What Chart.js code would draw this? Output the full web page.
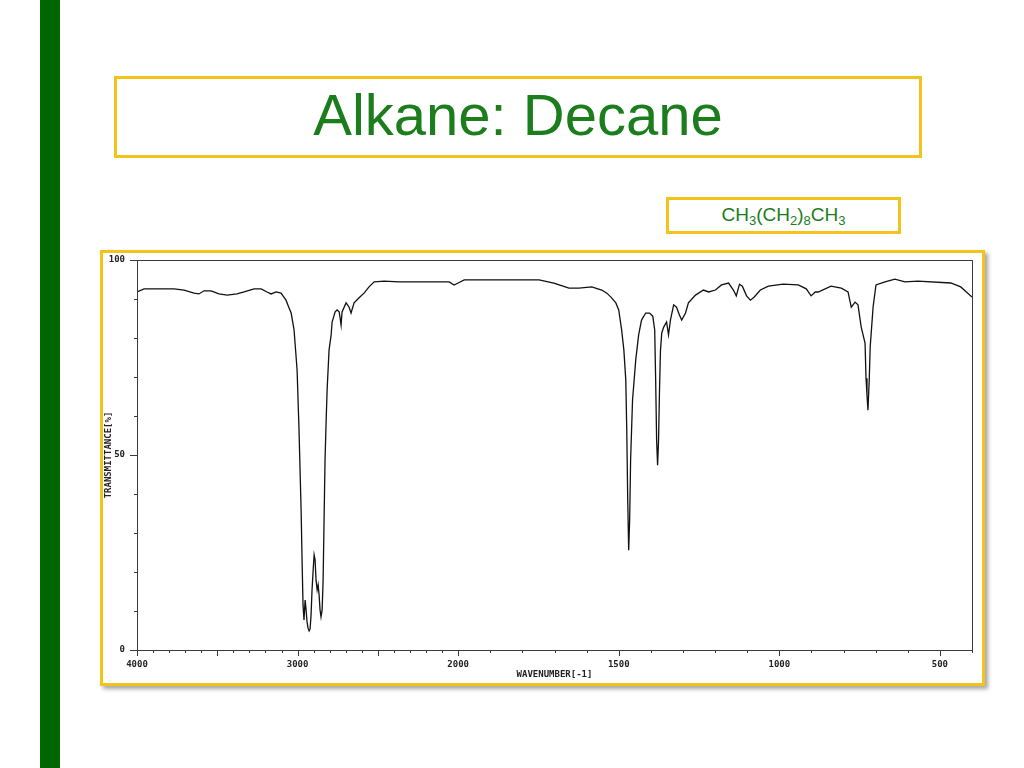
<!DOCTYPE html>
<html>
<head>
<meta charset="utf-8">
<script src="https://cdn.jsdelivr.net/npm/chart.js@4.4.0/dist/chart.umd.min.js"></script>
<style>
body { margin: 0; width: 1024px; height: 768px; background: #fff; position: relative; overflow: hidden; font-family: "Liberation Sans", Arial, sans-serif; }
.bar { position: absolute; left: 40px; top: 0; width: 20px; height: 768px; background: #006600; }
.title { position: absolute; left: 114px; top: 76px; width: 808px; height: 82px; box-sizing: border-box; border: 3px solid #f3c31c;
  text-align: center; font-size: 58px; line-height: 72px; color: #1b7d1b; }
.formula { position: absolute; left: 666px; top: 197px; width: 235px; height: 37px; box-sizing: border-box; border: 3px solid #f3c31c;
  text-align: center; font-size: 19px; line-height: 30px; color: #1b7d1b; }
.formula sub { font-size: 13px; vertical-align: -4px; line-height: 0; }
.chartbox { position: absolute; left: 100px; top: 250px; width: 885px; height: 436px; box-sizing: border-box; border: 3px solid #f3c31c;
  box-shadow: 3px 3px 4px rgba(0,0,0,0.35); background: #fff; }
.wrap { position: absolute; left: 103px; top: 253px; width: 879px; height: 430px; }
</style>
</head>
<body>
<div class="bar"></div>
<div class="title">Alkane: Decane</div>
<div class="formula">CH<sub>3</sub>(CH<sub>2</sub>)<sub>8</sub>CH<sub>3</sub></div>
<div class="chartbox"></div>
<div class="wrap"><canvas id="chart"></canvas></div>
<script>
// spectrum (wavenumber cm-1, transmittance %)
const wavenumbers = [4000,3956,3863,3769,3707,3645,3614,3583,3539,3489,
  3439,3377,3333,3271,3227,3190,3165,3134,3103,3072,
  3053,3040,3022,3003,2991,2978,2972,2966,2960,2953,
  2947,2941,2935,2928,2922,2916,2910,2903,2897,2891,
  2885,2878,2872,2866,2860,2854,2847,2841,2835,2829,
  2822,2816,2804,2791,2785,2766,2754,2741,2735,2729,
  2723,2698,2679,2667,2648,2617,2586,2555,2523,2461,
  2368,2243,2118,2056,2025,2000,1981,1873,1748,1702,
  1655,1624,1584,1553,1537,1522,1509,1500,1491,1484,
  1478,1475,1472,1469,1466,1463,1457,1447,1438,1429,
  1416,1404,1394,1388,1385,1382,1379,1376,1373,1370,
  1366,1360,1351,1345,1339,1329,1320,1311,1304,1292,
  1283,1261,1236,1220,1199,1180,1158,1143,1134,1124,
  1115,1102,1090,1078,1059,1034,988,941,916,901,
  888,879,839,807,786,776,764,755,745,733,
  730,727,724,720,717,708,699,671,640,609,
  568,466,435,400];
const transmittance = [91.8,92.6,92.6,92.6,92.3,91.5,91.3,92.1,92.1,91.3,
  91.0,91.3,91.8,92.6,92.6,91.8,91.3,91.8,91.5,89.7,
  87.7,86.4,82.1,71.8,56.4,35.9,23.1,11.5,7.7,12.8,
  10.3,7.2,5.6,4.9,5.4,9.0,15.4,20.5,24.4,23.1,
  17.9,15.4,16.7,14.1,10.3,8.5,10.3,17.9,33.3,48.7,
  59.0,66.7,76.9,80.8,84.1,86.7,87.2,86.7,85.1,83.3,
  86.7,89.0,87.9,86.4,89.0,90.3,91.5,93.1,94.4,94.6,
  94.4,94.4,94.4,94.4,93.6,94.1,94.9,94.9,94.9,94.1,
  92.8,92.8,93.1,92.3,91.5,90.3,89.0,87.2,82.1,76.9,
  69.2,56.4,38.5,25.6,33.3,48.7,64.1,74.4,80.8,84.6,
  86.4,86.4,85.6,82.1,69.2,53.8,47.4,53.8,66.7,76.9,
  81.3,82.8,84.1,80.8,84.6,88.5,87.9,85.9,84.6,86.4,
  89.0,91.0,92.3,91.8,92.3,93.6,94.1,92.3,90.8,93.8,
  93.3,90.8,89.7,90.5,92.3,93.3,93.8,93.6,92.6,90.8,
  91.8,91.8,93.3,92.8,91.8,87.9,89.2,88.5,82.8,78.7,
  69.7,65.4,61.5,69.2,77.7,87.9,93.6,94.4,95.1,94.4,
  94.6,94.1,93.1,90.5];

const xLabelTicks = [4000, 3000, 2000, 1500, 1000, 500];
const yLabelTicks = [0, 50, 100];
const xMax = 4000, xMin = 400, xBreak = 2000;   // scale doubles below 2000
const xMinorStep = 100, xMajorStep = 500;
const yMinorStep = 10, yMajorStep = 50;
const axisColor = '#3a3a3a';
const monoFont = { family: '"DejaVu Sans Mono", monospace', size: 9, weight: 'bold' };

// ir spectrum axis: high wavenumber on the left, 2x stretched under 2000
function irFrac(v) {
    const total = (xMax - xBreak) + 2 * (xBreak - xMin);
    const u = v >= xBreak ? (xMax - v) : (xMax - xBreak) + 2 * (xBreak - v);
    return u / total;
}
class IrScale extends Chart.LinearScale {
    getPixelForValue(value) {
        return this.left + irFrac(value) * this.width;
    }
    getValueForPixel(pixel) {
        const total = (xMax - xBreak) + 2 * (xBreak - xMin);
        const u = (pixel - this.left) / this.width * total;
        return u <= xMax - xBreak ? xMax - u : xBreak - (u - (xMax - xBreak)) / 2;
    }
}
IrScale.id = 'ir';
IrScale.defaults = Chart.LinearScale.defaults;
Chart.register(IrScale);

// tick marks of different lengths + plot frame
const frameTicks = {
    id: 'frameTicks',
    afterDraw(chart) {
        const { ctx, chartArea: a, scales } = chart;
        const x = scales.x, y = scales.y;
        ctx.save();
        ctx.strokeStyle = axisColor;
        ctx.lineWidth = 1;
        ctx.beginPath();
        for (let v = xMax; v >= xMin; v -= xMinorStep) {
            const px = Math.round(x.getPixelForValue(v)) + 0.5;
            const len = v % xMajorStep === 0 ? 6 : 3;
            ctx.moveTo(px, a.bottom);
            ctx.lineTo(px, a.bottom + len);
        }
        for (let v = 0; v <= 100; v += yMinorStep) {
            const py = Math.round(y.getPixelForValue(v)) + 0.5;
            const len = v % yMajorStep === 0 ? 7 : 3;
            ctx.moveTo(a.left - len, py);
            ctx.lineTo(a.left, py);
        }
        ctx.stroke();
        ctx.strokeRect(Math.round(a.left) + 0.5, Math.round(a.top) + 0.5,
            Math.round(a.right - a.left), Math.round(a.bottom - a.top));
        ctx.restore();
    }
};

new Chart(document.getElementById('chart'), {
    type: 'line',
    data: {
        datasets: [{
            data: wavenumbers.map((w, i) => ({ x: w, y: transmittance[i] })),
            borderColor: '#111',
            borderWidth: 1.3,
            pointRadius: 0,
            tension: 0,
            fill: false
        }]
    },
    options: {
        responsive: true,
        maintainAspectRatio: false,
        animation: false,
        layout: { padding: { left: 0, top: 7, right: 10, bottom: 0 } },
        plugins: { legend: { display: false }, tooltip: { enabled: false } },
        scales: {
            x: {
                type: 'ir',
                min: xMin,
                max: xMax,
                afterBuildTicks: s => { s.ticks = xLabelTicks.map(v => ({ value: v })); },
                afterFit: s => { s.height = 33; s.paddingLeft = 0; s.paddingRight = 0; },
                grid: { display: false, drawTicks: false },
                border: { display: false },
                ticks: { autoSkip: false, maxRotation: 0, padding: 9, color: '#222', font: monoFont,
                    callback: v => String(v) },
                title: { display: true, text: 'WAVENUMBER[-1]', color: '#222', font: monoFont,
                    padding: { top: 0, bottom: 3 } }
            },
            y: {
                min: 0,
                max: 100,
                afterBuildTicks: s => { s.ticks = yLabelTicks.map(v => ({ value: v })); },
                afterFit: s => { s.width = 34; s.paddingTop = 0; s.paddingBottom = 0; },
                grid: { display: false, drawTicks: false },
                border: { display: false },
                ticks: { padding: 12, color: '#222', font: monoFont, callback: v => String(v) },
                title: { display: true, text: 'TRANSMITTANCE[%]', color: '#222', font: monoFont,
                    padding: { top: 0, bottom: 0 } }
            }
        }
    },
    plugins: [frameTicks]
});
</script>
</body>
</html>
